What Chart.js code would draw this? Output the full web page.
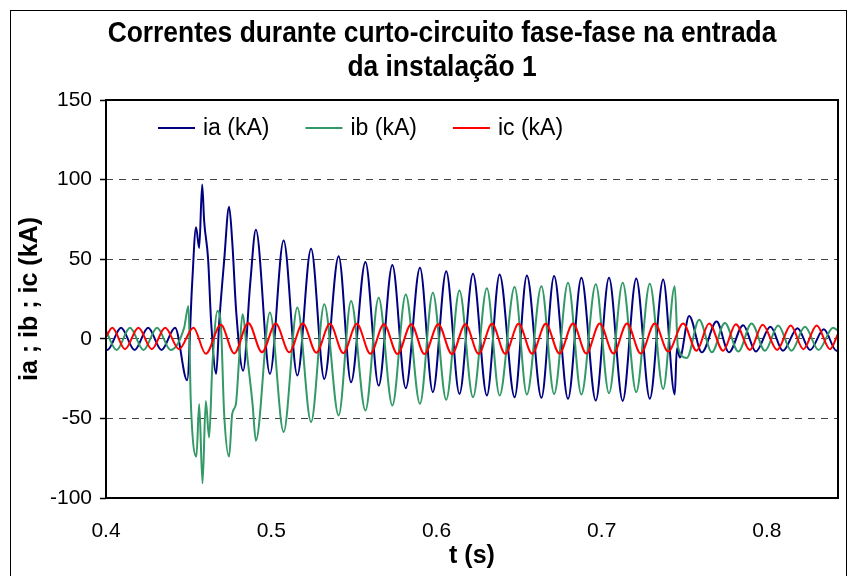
<!DOCTYPE html>
<html>
<head>
<meta charset="utf-8">
<script src="https://cdn.jsdelivr.net/npm/chart.js@4.4.1/dist/chart.umd.min.js"></script>
<style>
  html, body { margin: 0; padding: 0; background: #fff; }
  #wrap { width: 854px; height: 576px; position: relative; }
</style>
</head>
<body>
<div id="wrap"><canvas id="curtoChart"></canvas></div>
<script>
// tempo (s) e correntes (kA)
var iaT = [0.4000, 0.4008, 0.4091, 0.4173, 0.4255, 0.4336, 0.4418, 0.4491, 0.4521, 0.4545,
  0.4564, 0.4582, 0.4594, 0.4618, 0.4636, 0.4667, 0.4685, 0.4715, 0.4745, 0.4764,
  0.4788, 0.4830, 0.4873, 0.4907, 0.4992, 0.5075, 0.5158, 0.5241, 0.5321, 0.5408,
  0.5483, 0.5570, 0.5650, 0.5733, 0.5814, 0.5900, 0.5978, 0.6059, 0.6139, 0.6221,
  0.6305, 0.6382, 0.6473, 0.6547, 0.6635, 0.6712, 0.6796, 0.6877, 0.6964, 0.7044,
  0.7127, 0.7209, 0.7291, 0.7372, 0.7442, 0.7455, 0.7473, 0.7529, 0.7606, 0.7695,
  0.7770, 0.7856, 0.7933, 0.8021, 0.8097, 0.8185, 0.8261, 0.8344, 0.8421, 0.8430];
var iaV = [-6.9, -7, 7, -7, 7, -7, 7, -26, 34, 70,
  57, 97, 74, 50, 11, -22, 10, 49, 83, 61,
  17, -20, 35, 68.5, -22, 61.7, -23, 56.5, -25.2, 51.9,
  -27.3, 48.3, -29.4, 46.3, -31, 44.6, -33.5, 42.5, -34.6, 40.8,
  -35.6, 40.4, -36.7, 39.8, -37.1, 39.4, -37.7, 38.3, -38.8, 38.3,
  -39, 37.9, -37.7, 37.3, -35, -6, -11.7, 14.4, -8.5, 10.8,
  -8.5, 8.5, -8, 7.5, -7.5, 6.7, -7, 6, -7.5, -7];

var ibT = [0.4000, 0.4064, 0.4145, 0.4227, 0.4309, 0.4391, 0.4473, 0.4499, 0.4513, 0.4547,
  0.4564, 0.4584, 0.4604, 0.4624, 0.4644, 0.4675, 0.4695, 0.4715, 0.4745, 0.4764,
  0.4786, 0.4806, 0.4826, 0.4856, 0.4887, 0.4907, 0.4992, 0.5075, 0.5158, 0.5241,
  0.5321, 0.5408, 0.5483, 0.5570, 0.5650, 0.5733, 0.5814, 0.5900, 0.5978, 0.6059,
  0.6139, 0.6221, 0.6305, 0.6382, 0.6473, 0.6547, 0.6635, 0.6712, 0.6796, 0.6877,
  0.6964, 0.7044, 0.7127, 0.7209, 0.7291, 0.7372, 0.7442, 0.7461, 0.7515, 0.7590,
  0.7667, 0.7745, 0.7827, 0.7907, 0.7988, 0.8068, 0.8148, 0.8230, 0.8312, 0.8400, 0.8430];
var ibV = [5.1, -7, 7, -7, 7, -7, 7, 20.6, -38.8, -74,
  -41, -90.8, -39, -62, -16, 17.5, 9, -47, -74, -47,
  -41, -12, 15.4, -12, -41, -64, 16.5, -58.5, 19.6, -52.3,
  21.7, -48.1, 23.8, -45, 25.8, -41.9, 27.9, -40.8, 29, -38.3,
  30.4, -36.7, 31.7, -35.6, 32.5, -35, 33, -34.6, 35.2, -35,
  34.2, -34.2, 35.2, -33.5, 34.6, -31.5, 33, -5, -12, 12,
  -8.5, 10, -8, 9.6, -7.5, 8.4, -7.5, 7.5, -7, 7, 5];

var icT = [0.4000, 0.4038, 0.4115, 0.4196, 0.4277, 0.4358, 0.4442, 0.4529, 0.4604, 0.4695,
  0.4776, 0.4861, 0.4944, 0.5027, 0.5109, 0.5191, 0.5273, 0.5355, 0.5436, 0.5518,
  0.5600, 0.5682, 0.5764, 0.5847, 0.5927, 0.6011, 0.6093, 0.6175, 0.6255, 0.6336,
  0.6416, 0.6497, 0.6579, 0.6661, 0.6744, 0.6826, 0.6907, 0.6988, 0.7071, 0.7153,
  0.7236, 0.7321, 0.7402, 0.7493, 0.7574, 0.7650, 0.7735, 0.7812, 0.7897, 0.7974,
  0.8062, 0.8144, 0.8220, 0.8301, 0.8382, 0.8430];
var icV = [1, 7, -6.5, 7, -6.5, 7, -6.5, 7, -9.4, 8.8,
  -9.2, 10, -8.5, 9.6, -8.5, 9.6, -8.8, 9.4, -9, 9.4,
  -9.4, 9.2, -9.6, 9.2, -9.6, 9.2, -9.6, 9.2, -9.4, 9.4,
  -9.4, 9.4, -9.4, 9.4, -9.2, 9.6, -9.2, 9.6, -9.2, 9.6,
  -9.2, 9.6, -8, 9.6, -7.5, 9.6, -7.5, 9.2, -7, 8.8,
  -7, 8.4, -6.5, 8.4, -6.5, 3];

var seriesNames = ['ia (kA)', 'ib (kA)', 'ic (kA)'];
var xTicks = [0.4, 0.5, 0.6, 0.7, 0.8];
var yTicks = [-100, -50, 0, 50, 100, 150];
var chartTitle = ['Correntes durante curto-circuito fase-fase na entrada', 'da instalação 1'];

var FONT = "'Liberation Sans', Arial, sans-serif";
Chart.defaults.font.family = FONT;
Chart.defaults.color = '#000';

function pts(t, v) {
  return t.map(function (x, i) { return { x: x, y: v[i] }; });
}

// moldura, titulo e legenda dentro da area do grafico
var decor = {
  id: 'decor',
  beforeDraw: function (chart) {
    var ctx = chart.ctx;
    ctx.save();
    ctx.fillStyle = '#fff';
    ctx.fillRect(0, 0, chart.width, chart.height);
    ctx.strokeStyle = '#000';
    ctx.lineWidth = 1;
    ctx.strokeRect(10.5, 10.5, 836, chart.height + 10);
    ctx.restore();
  },
  afterDatasetsDraw: function (chart) {
    var a = chart.chartArea, ctx = chart.ctx;
    ctx.save();
    ctx.strokeStyle = '#000';
    ctx.lineWidth = 2;
    ctx.strokeRect(a.left, a.top, a.right - a.left, a.bottom - a.top);

    // titulo um pouco condensado, como no original
    ctx.fillStyle = '#000';
    ctx.textAlign = 'center';
    ctx.textBaseline = 'middle';
    ctx.font = 'bold 29px ' + FONT;
    ctx.save();
    ctx.translate(442, 0);
    ctx.scale(0.91, 1);
    ctx.fillText(chartTitle[0], 0, 34);
    ctx.fillText(chartTitle[1], 0, 68);
    ctx.restore();

    ctx.font = '23px ' + FONT;
    ctx.textAlign = 'left';
    var x = a.left + 52, y = a.top + 28;
    chart.data.datasets.forEach(function (ds) {
      ctx.strokeStyle = ds.borderColor;
      ctx.lineWidth = 2;
      ctx.beginPath();
      ctx.moveTo(x, y);
      ctx.lineTo(x + 37, y);
      ctx.stroke();
      ctx.fillText(ds.label, x + 45, y + 1);
      x += 45 + ctx.measureText(ds.label).width + 36;
    });
    ctx.restore();
  }
};

var ctx = document.getElementById('curtoChart').getContext('2d');
var chart = new Chart(ctx, {
  type: 'line',
  data: {
    datasets: [
      { label: seriesNames[0], data: pts(iaT, iaV), borderColor: '#000080', borderWidth: 2,
        pointRadius: 0, cubicInterpolationMode: 'monotone', fill: false, order: 2 },
      { label: seriesNames[1], data: pts(ibT, ibV), borderColor: '#339966', borderWidth: 2,
        pointRadius: 0, cubicInterpolationMode: 'monotone', fill: false, order: 1 },
      { label: seriesNames[2], data: pts(icT, icV), borderColor: '#ff0000', borderWidth: 2,
        pointRadius: 0, cubicInterpolationMode: 'monotone', fill: false, order: 0 }
    ]
  },
  options: {
    responsive: true,
    maintainAspectRatio: false,
    animation: false,
    events: [],
    layout: { padding: { left: 10, right: 16, top: 100, bottom: 0 } },
    plugins: {
      legend: { display: false },
      tooltip: { enabled: false },
      title: { display: false }
    },
    scales: {
      x: {
        type: 'linear',
        min: 0.4,
        max: 0.843,
        afterBuildTicks: function (s) {
          s.ticks = xTicks.map(function (v) { return { value: v }; });
        },
        afterFit: function (s) { s.height = 78; },
        grid: { display: false, drawTicks: false },
        border: { display: false },
        ticks: {
          font: { size: 21 }, color: '#000', padding: 21, maxRotation: 0,
          callback: function (v) { return Number(v).toFixed(1); }
        },
        title: {
          display: true, text: 't (s)', color: '#000',
          font: { size: 25, weight: 'bold' }, padding: { top: 0, bottom: 5 }
        }
      },
      y: {
        min: -100,
        max: 150,
        afterBuildTicks: function (s) {
          s.ticks = yTicks.map(function (v) { return { value: v }; });
        },
        afterFit: function (s) { s.width = 96; },
        grid: {
          color: function (c) {
            var v = c.tick ? c.tick.value : null;
            return (v === 150 || v === -100) ? 'rgba(0,0,0,0)' : '#444';
          },
          lineWidth: 1,
          drawTicks: true,
          tickLength: 6,
          tickColor: '#000',
          tickWidth: 1.5,
          tickBorderDash: []
        },
        border: { display: false, dash: [7, 6] },
        ticks: { font: { size: 21 }, color: '#000', padding: 8 },
        title: {
          display: true, text: 'ia ; ib ; ic (kA)', color: '#000',
          font: { size: 25, weight: 'bold' }, padding: { top: 5, bottom: 0 }
        }
      }
    }
  },
  plugins: [decor]
});
</script>
</body>
</html>
